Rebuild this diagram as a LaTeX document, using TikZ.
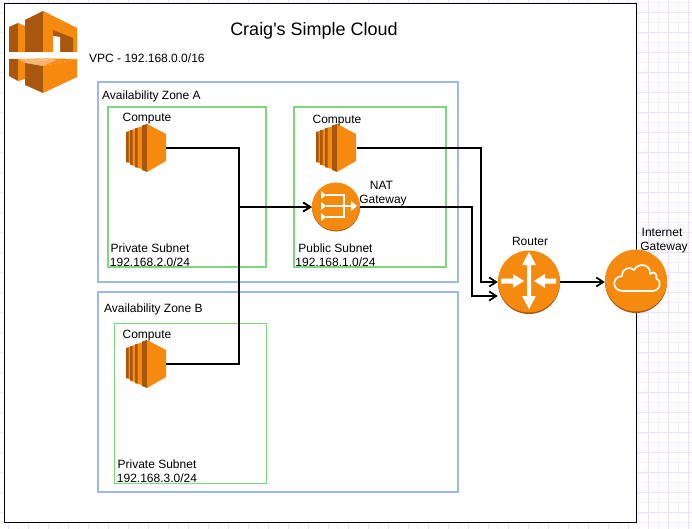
\documentclass[tikz,border=0pt]{standalone}
\usepackage{fontspec}
\setmainfont{Liberation Sans}
\newfontfamily\plainsans{Liberation Sans}
\definecolor{awsor}{HTML}{F58A0F}
\definecolor{awsdk}{HTML}{A9570F}
\definecolor{awslt}{HTML}{F9B56B}
\definecolor{gridA}{HTML}{EBE0FF}
\definecolor{gridB}{HTML}{F4EFFF}
\definecolor{azblue}{HTML}{A0B8E6}
\definecolor{subgreen}{HTML}{7FD67F}
\usetikzlibrary{arrows.meta}
\tikzset{
  zone/.style={draw=azblue,line width=1.6pt},
  subnet/.style={draw=subgreen,line width=1.6pt},
  subnetthin/.style={draw=subgreen,line width=0.8pt},
  lbl/.style={inner sep=0pt,anchor=base,font=\fontsize{12}{14}\selectfont,align=center},
  lblw/.style={inner sep=0pt,anchor=base west,font=\fontsize{12}{14}\selectfont},
  conn/.style={draw=black,line width=1.9pt,-{Straight Barb[length=7pt,width=9pt,line width=1.7pt]}},
}
\newcommand{\ComputeIcon}[3]{%
 \begin{scope}[shift={(#2,#3)}]
  \fill[awsor] (0,8) -- (4,7) -- (4,39) -- (0,38) -- cycle;
  \fill[awsdk] (0,8) -- (2.5,7.6) -- (2.5,38.4) -- (0,38) -- cycle;
  \fill[awsor] (4,6.5) -- (9,5) -- (9,42) -- (4,40.5) -- cycle;
  \fill[awsdk] (4,6.5) -- (6.5,5.8) -- (6.5,41.2) -- (4,40.5) -- cycle;
  \fill[awsor] (9,4.5) -- (16,2.5) -- (16,45) -- (9,43) -- cycle;
  \fill[awsdk] (9,4.5) -- (11.5,3.8) -- (11.5,43.7) -- (9,43) -- cycle;
  \fill[awsdk] (16,1.5) -- (21,0) -- (21,48) -- (16,46) -- cycle;
  \fill[awsor] (21,0) -- (40,10) -- (40,37) -- (21,48) -- cycle;
  \node[inner sep=0pt,minimum width=40pt,minimum height=48pt] (#1) at (20,24) {};
 \end{scope}}
\begin{document}
\begin{tikzpicture}[x=1pt,y=-1pt]
\useasboundingbox (0,0) rectangle (692,529);
\fill[white] (0,0) rectangle (692,529);
% background grid
\foreach \i in {0,...,34} {\draw[gridB,line width=0.8pt] ({18+20*\i-20},0) -- ({18+20*\i-20},529);}
\foreach \i in {0,...,26} {\draw[gridB,line width=0.8pt] (0,{22+20*\i-20}) -- (692,{22+20*\i-20});}
\foreach \i in {0,...,34} {\draw[gridA,line width=0.9pt] ({8+20*\i},0) -- ({8+20*\i},529);}
\foreach \i in {0,...,26} {\draw[gridA,line width=0.9pt] (0,{12+20*\i}) -- (692,{12+20*\i});}
% VPC box
\node[draw=black,fill=white,line width=1.1pt,inner sep=0pt,minimum width=632pt,minimum height=519pt] (vpc) at (320.5,263) {};
% zones
\node[zone,inner sep=0pt,minimum width=360pt,minimum height=200pt] (azA) at (278,182) {};
\node[zone,inner sep=0pt,minimum width=360pt,minimum height=200pt] (azB) at (278,392) {};
\node[subnet,inner sep=0pt,minimum width=158pt,minimum height=160pt] (snA) at (187,187) {};
\node[subnet,inner sep=0pt,minimum width=152pt,minimum height=160pt] (snP) at (370,187) {};
\node[subnetthin,inner sep=0pt,minimum width=152pt,minimum height=160pt] (snC) at (190.5,403.5) {};
% logo
\fill[awsdk] (9,27) -- (18,23) -- (18,52) -- (9,52) -- cycle;
\fill[awsor] (18,23) -- (25,26) -- (25,52) -- (18,52) -- cycle;
\fill[awsdk] (25,20) -- (43,11) -- (43,52) -- (25,52) -- cycle;
\fill[awsor] (43,11) -- (77,28) -- (77,52) -- (43,52) -- cycle;
\fill[awsdk] (53,30) -- (73,38) -- (73,52) -- (60,52) -- (60,37) -- (53,36) -- cycle;
\fill[white] (53,36) -- (60,37) -- (60,52) -- (53,52) -- cycle;
\fill[awsdk] (9,59) -- (18,59) -- (18,81) -- (9,76) -- cycle;
\fill[awsor] (18,59) -- (25,59) -- (25,79) -- (18,81) -- cycle;
\fill[awslt] (18,59) -- (53,58) -- (25,63) -- cycle;
\fill[awsor] (53,58.5) -- (77,59) -- (43,66) -- cycle;
\fill[awslt] (25,63) -- (53,58.5) -- (56,60.5) -- (43,66) -- cycle;
\fill[awsdk] (25,63) -- (43,66) -- (43,93) -- (25,85) -- cycle;
\fill[awsor] (43,66) -- (77,59) -- (77,77) -- (43,93) -- cycle;
% compute icons
\ComputeIcon{c1}{126}{124}
\ComputeIcon{c2}{316}{124}
\ComputeIcon{c3}{126}{340}
% NAT
\fill[awsdk] (336,207.5) circle (24);
\fill[awsor] (336,206.5) circle (24);
\node[inner sep=0pt,minimum size=48pt,circle] (nat) at (336,206.5) {};
\begin{scope}[draw=white,line width=1.5pt,fill=white]
 \draw (326,195) -- (344,195) -- (344,217) -- (326,217);
 \draw (326,206) -- (352,206);
 \fill[white] (321,191) -- (326,195) -- (321,199) -- cycle;
 \fill[white] (321,202) -- (326,206) -- (321,210) -- cycle;
 \fill[white] (321,213) -- (326,217) -- (321,221) -- cycle;
 \fill[white] (351,201) -- (357,206) -- (351,211) -- cycle;
\end{scope}
% Router
\fill[awsdk] (529,283) circle (31);
\fill[awsor] (529,281.5) circle (31);
\node[inner sep=0pt,minimum size=62pt,circle] (router) at (529,281.5) {};
\fill[white] (529,252) -- (536,265) -- (531,265) -- (531,296) -- (536,296) -- (529,309) -- (522,296) -- (527,296) -- (527,265) -- (522,265) -- cycle;
\fill[white] (501,278.5) -- (513,278.5) -- (513,274) -- (524,281) -- (513,288) -- (513,283.5) -- (501,283.5) -- cycle;
\fill[white] (556,278.5) -- (545,278.5) -- (545,274) -- (534,281) -- (545,288) -- (545,283.5) -- (556,283.5) -- cycle;
% Internet gateway
\fill[awsdk] (636,282) circle (31);
\fill[awsor] (636,280.5) circle (31);
\node[inner sep=0pt,minimum size=62pt,circle] (igw) at (636,280.5) {};
\draw[white,line width=1.7pt,line join=round] (623,291) .. controls (612,291) and (611,277) .. (622,276) .. controls (622,268) and (630,266) .. (634,270) .. controls (638,262) and (651,264) .. (650,274) .. controls (654,270) and (658,275) .. (656,278) .. controls (662,280) and (661,291) .. (652,291) -- cycle;
% connectors
\coordinate (j1) at (239,207);
\draw[conn] (c1.east |- 0,148) -- (239,148) -- (j1) -- (nat.west |- j1);
\draw[conn] (c3.east |- 0,364) -- (239,364) -- (j1) -- (nat.west |- j1);
\draw[conn] (c2.east |- 0,148) ++(1,0) -- (481,148) -- (481,282) -- (router.west |- 0,282);
\draw[conn] (nat.east |- 0,207) -- (472,207) -- (472,296) -- (router.west |- 0,296);
\draw[conn] (router.east |- 0,282) -- (igw.west |- 0,282);
% text
\node[lbl,font=\plainsans\fontsize{18}{21}\selectfont] (title) at (314,36) {Craig's Simple Cloud};
\node[lblw] (tvpc) at (89,62.5) {VPC - 192.168.0.0/16};
\node[lblw] (tza) at (102,99.5) {Availability Zone A};
\node[lblw] (tzb) at (104,312) {Availability Zone B};
\node[lbl] (tc1) at (147,121.7) {Compute};
\node[lbl] (tc2) at (337,123.7) {Compute};
\node[lbl] (tc3) at (147,338) {Compute};
\node[lbl] (tn1) at (381.5,189.7) {NAT};
\node[lbl] (tn2) at (383,203.7) {Gateway};
\node[lbl] (tps1) at (150,252) {Private Subnet};
\node[lbl] (tps2) at (150,266) {192.168.2.0/24};
\node[lbl] (tpu1) at (335.5,252) {Public Subnet};
\node[lbl] (tpu2) at (335.5,266) {192.168.1.0/24};
\node[lbl] (tpc1) at (157,468) {Private Subnet};
\node[lbl] (tpc2) at (157,482) {192.168.3.0/24};
\node[lbl] (tr) at (530,245) {Router};
\node[lbl] (ti1) at (662,236) {Internet};
\node[lbl] (ti2) at (664,250) {Gateway};
\end{tikzpicture}
\end{document}
